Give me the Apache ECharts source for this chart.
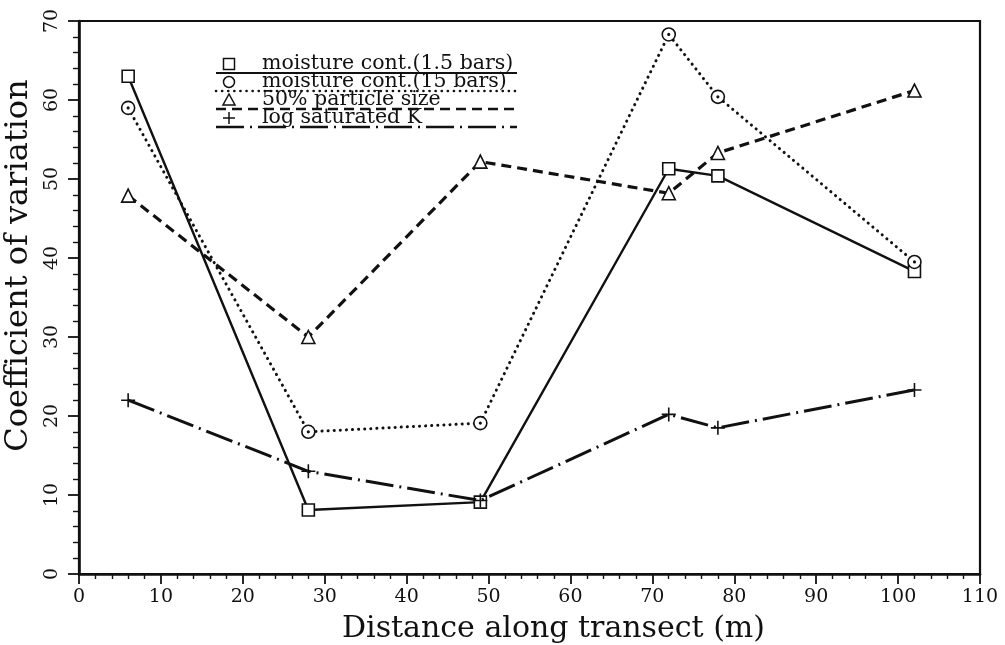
<!DOCTYPE html>
<html>
<head>
<meta charset="utf-8">
<script src="https://cdn.jsdelivr.net/npm/echarts@6/dist/echarts.min.js"></script>
<style>
  html, body { margin: 0; padding: 0; background: #fff; }
  #chart { width: 1005px; height: 645px; }
</style>
</head>
<body>
<div id="chart"></div>
<script>
// Sampling positions along the transect (m)
const distance = [6, 28, 49, 72, 78, 102];

// Coefficient of variation (%) for each soil property
const moisture15bars = [63.0, 8.1, 9.1, 51.3, 50.4, 38.3];
const moisture150bars = [59.0, 18.0, 19.1, 68.3, 60.4, 39.5];
const particleSize50 = [47.9, 30.0, 52.2, 48.2, 53.3, 61.2];
const logSaturatedK = [22.0, 13.0, 9.3, 20.2, 18.5, 23.3];

const seriesNames = [
  'moisture cont.(1.5 bars)',
  'moisture cont.(15 bars)',
  '50% particle size',
  'log saturated K'
];

const xTicks = { min: 0, max: 110, step: 10 };
const yTicks = { min: 0, max: 70, step: 10 };

const FONT = 'DejaVu Serif';
const INK = '#111';

const pair = (xs, ys) => xs.map((x, i) => [x, ys[i]]);

// marker shapes
const SQUARE = 'path://M-10,-10 L10,-10 L10,10 L-10,10 Z';
const RING_DOT = 'path://M0,-10 A10,10 0 1,1 0,10 A10,10 0 1,1 0,-10 Z M0,-1.2 A1.2,1.2 0 1,1 0,1.2 A1.2,1.2 0 1,1 0,-1.2 Z';
const TRIANGLE = 'path://M0,-10 L10,7 L-10,7 Z';
const PLUS = 'path://M-10,0 L10,0 M0,-10 L0,10';

// line dash patterns
const DASH_SOLID = 'solid';
const DASH_DOT = [0.1, 6];
const DASH_DASH = [10, 6];
const DASH_LONGDOT = [28, 6, 2, 6];

const styles = [
  { symbol: SQUARE, size: 12, dash: DASH_SOLID, width: 2.4, cap: 'butt' },
  { symbol: RING_DOT, size: 13, dash: DASH_DOT, width: 3, cap: 'round' },
  { symbol: TRIANGLE, size: 13, dash: DASH_DASH, width: 3.2, cap: 'butt' },
  { symbol: PLUS, size: 14, dash: DASH_LONGDOT, width: 3, cap: 'butt' }
];
const values = [moisture15bars, moisture150bars, particleSize50, logSaturatedK];

const series = values.map((v, i) => ({
  name: seriesNames[i],
  type: 'line',
  data: pair(distance, v),
  symbol: styles[i].symbol,
  symbolSize: styles[i].size,
  showAllSymbol: true,
  z: 3 + i,
  lineStyle: { color: INK, width: styles[i].width, type: styles[i].dash, cap: styles[i].cap },
  itemStyle: { color: '#fff', borderColor: INK, borderWidth: 1.6 },
  emphasis: { disabled: true },
  animation: false
}));

// key: marker, label and a sample of the line style beneath each entry
const key = { left: 216, right: 517, markerX: 229, textX: 262, firstRule: 73, rowGap: 18 };
const keyGraphics = [];
const markerStyle = { fill: '#fff', stroke: INK, lineWidth: 1.5 };
styles.forEach((s, i) => {
  const ruleY = key.firstRule + i * key.rowGap;
  const cy = ruleY - 9;
  const mx = key.markerX;
  keyGraphics.push({
    type: 'line',
    shape: { x1: key.left, y1: ruleY, x2: key.right, y2: ruleY },
    style: {
      stroke: INK,
      lineWidth: i === 0 ? 2.2 : 2.6,
      lineDash: s.dash === 'solid' ? null : s.dash,
      lineCap: s.cap
    },
    z: 10
  });
  keyGraphics.push({
    type: 'text',
    x: key.textX,
    y: ruleY + 1,
    style: { text: seriesNames[i], font: '20.5px "' + FONT + '"', fill: INK, textVerticalAlign: 'bottom' },
    z: 11
  });
  if (i === 0) {
    keyGraphics.push({ type: 'rect', shape: { x: mx - 5.5, y: cy - 5.5, width: 11, height: 11 }, style: markerStyle, z: 12 });
  } else if (i === 1) {
    keyGraphics.push({ type: 'circle', shape: { cx: mx, cy: cy, r: 5.5 }, style: markerStyle, z: 12 });
  } else if (i === 2) {
    keyGraphics.push({ type: 'polygon', shape: { points: [[mx, cy - 6], [mx + 6, cy + 5], [mx - 6, cy + 5]] }, style: markerStyle, z: 12 });
  } else {
    keyGraphics.push({ type: 'line', shape: { x1: mx - 6, y1: cy, x2: mx + 6, y2: cy }, style: { stroke: INK, lineWidth: 1.5 }, z: 12 });
    keyGraphics.push({ type: 'line', shape: { x1: mx, y1: cy - 6, x2: mx, y2: cy + 6 }, style: { stroke: INK, lineWidth: 1.5 }, z: 12 });
  }
});

const chart = echarts.init(document.getElementById('chart'), null, { renderer: 'canvas' });

const option = {
  backgroundColor: '#fff',
  animation: false,
  grid: {
    left: 79, right: 25, top: 21, bottom: 71,
    show: true, borderColor: INK, borderWidth: 2.2, backgroundColor: 'transparent',
    outerBoundsMode: 'none'
  },
  xAxis: {
    type: 'value',
    min: xTicks.min, max: xTicks.max, interval: xTicks.step,
    name: 'Distance along transect (m)',
    nameLocation: 'middle',
    nameGap: 40,
    nameTextStyle: { fontFamily: FONT, fontSize: 30, color: INK, padding: [0, 0, 0, 48] },
    axisLine: { show: true, onZero: false, lineStyle: { color: INK, width: 2.6 } },
    axisTick: { show: true, inside: false, length: 10, lineStyle: { color: INK, width: 1.8 } },
    minorTick: { show: true, splitNumber: 5, length: 5, lineStyle: { color: INK, width: 1.4 } },
    splitLine: { show: false },
    axisLabel: { fontFamily: FONT, fontSize: 19, color: INK, margin: 14 }
  },
  yAxis: {
    type: 'value',
    min: yTicks.min, max: yTicks.max, interval: yTicks.step,
    name: 'Coefficient of variation',
    nameLocation: 'middle',
    nameGap: 32,
    nameTextStyle: { fontFamily: FONT, fontSize: 32, color: INK, padding: [0, 0, 0, 64] },
    axisLine: { show: true, onZero: false, lineStyle: { color: INK, width: 2.6 } },
    axisTick: { show: true, inside: false, length: 11, lineStyle: { color: INK, width: 1.8 } },
    minorTick: { show: true, splitNumber: 5, length: 6, lineStyle: { color: INK, width: 1.4 } },
    splitLine: { show: false },
    axisLabel: { fontFamily: FONT, fontSize: 19, color: INK, rotate: 90, margin: 17 }
  },
  series: series,
  graphic: keyGraphics
};

chart.setOption(option);
</script>
</body>
</html>
